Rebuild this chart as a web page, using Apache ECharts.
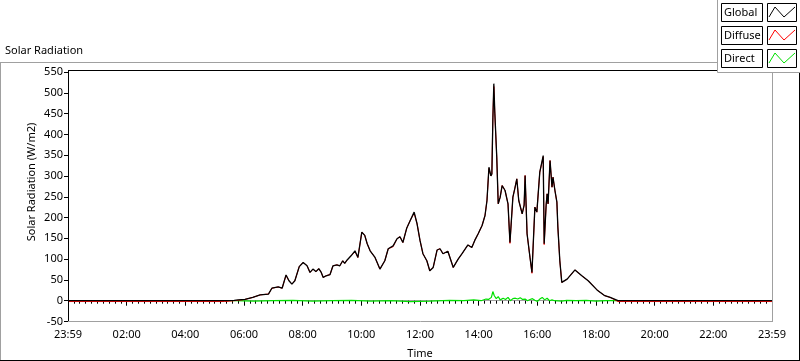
<!DOCTYPE html>
<html>
<head>
<meta charset="utf-8">
<script src="https://cdn.jsdelivr.net/npm/echarts@6/dist/echarts.min.js"></script>
<style>
  html, body { margin: 0; padding: 0; background: #fff; }
  #chart { width: 800px; height: 361px; }
</style>
</head>
<body>
<div id="chart"></div>
<script>
// minutes since the first 23:59 tick
const times = [
  0, 320, 340, 348, 362, 378, 393, 410, 417, 430,
  438, 446, 452, 458, 464, 473, 481, 489, 495, 501,
  507, 513, 518, 522, 528, 536, 542, 550, 556, 562,
  566, 571, 579, 587, 593, 601, 607, 612, 618, 628,
  638, 642, 648, 655, 665, 673, 679, 685, 693, 700,
  708, 714, 720, 726, 734, 740, 747, 755, 761, 767,
  777, 788, 798, 806, 818, 826, 832, 839, 847, 853,
  857, 861, 865, 867, 869, 871, 873, 877, 880, 884,
  888, 894, 898, 900, 904, 910, 914, 918, 922, 929,
  933, 935, 939, 945, 949, 955, 959, 965, 972, 974,
  978, 980, 982, 986, 990, 992, 996, 1000, 1002, 1006,
  1010, 1021, 1037, 1051, 1064, 1082, 1098, 1109, 1125, 1440
]
const globalValues = [
  0, 0, 1, 2, 3, 8, 14, 16, 30, 33,
  30, 62, 48, 40, 48, 82, 92, 84, 68, 76,
  70, 77, 68, 56, 60, 63, 84, 86, 84, 96,
  90, 98, 108, 120, 104, 165, 157, 137, 120, 104,
  76, 72, 96, 125, 132, 149, 154, 140, 175, 193,
  213, 185, 145, 113, 96, 72, 80, 122, 125, 113,
  119, 80, 100, 113, 134, 128, 145, 161, 181, 205,
  241, 321, 300, 305, 434, 522, 454, 345, 233, 249,
  277, 265, 269, 233, 140, 249, 270, 293, 241, 209,
  230, 301, 161, 104, 68, 225, 213, 309, 349, 137,
  230, 257, 233, 337, 273, 297, 265, 237, 177, 96,
  44, 52, 74, 60, 48, 26, 12, 8, 0, 0
]
const diffuseValues = [
  -2, -2, 0, 1, 3, 8, 14, 16, 30, 33,
  30, 61, 48, 40, 48, 82, 92, 84, 68, 76,
  70, 77, 68, 56, 60, 63, 84, 86, 84, 96,
  90, 98, 108, 118, 104, 165, 157, 137, 120, 104,
  76, 72, 96, 125, 130, 149, 154, 140, 175, 193,
  211, 185, 145, 113, 96, 72, 80, 122, 125, 113,
  119, 80, 100, 113, 134, 128, 145, 161, 181, 205,
  241, 318, 300, 305, 440, 515, 450, 345, 233, 249,
  277, 265, 269, 233, 138, 249, 270, 293, 241, 209,
  230, 301, 161, 104, 66, 225, 213, 309, 346, 135,
  230, 257, 233, 337, 273, 297, 265, 237, 177, 96,
  44, 52, 74, 60, 48, 26, 12, 8, -2, -2
]
const directTimes = [
  0, 340, 380, 420, 460, 500, 540, 580, 620, 660,
  700, 740, 780, 810, 830, 845, 855, 860, 866, 869,
  872, 876, 880, 884, 890, 895, 900, 905, 910, 915,
  920, 925, 930, 935, 940, 945, 950, 955, 960, 965,
  970, 975, 980, 985, 990, 995, 1010, 1020, 1040, 1060,
  1080, 1100, 1125, 1440
]
const directValues = [
  0, 0, -1, 0, 1, -1, 0, 1, -1, 0,
  -2, -1, 1, 0, 2, 0, 4, 3, 8, 22,
  12, 5, 10, 2, 6, 3, 8, 0, 5, 6,
  4, 7, 3, 4, 0, 3, 5, 1, -2, 4,
  8, 2, 6, 0, 2, 0, -1, 1, 0, 1,
  -1, 0, 0, 0
]
const legendNames = ['Global', 'Diffuse', 'Direct']
const legendColors = ['#000000', '#ff0000', '#00e000']

const FONT = 'Noto Sans'
const zip = (xs, ys) => xs.map((x, i) => [x, ys[i]])
const timeLabel = v => (v === 0 || v === 1440) ? '23:59' : String(v / 60).padStart(2, '0') + ':00'

const line = (x1, y1, x2, y2, color) => ({
  type: 'line', shape: { x1, y1, x2, y2 }, style: { stroke: color, lineWidth: 1 }, z: 100
})

const legendItems = []
legendNames.forEach((name, i) => {
  const top = 3 + i * 23
  legendItems.push({
    type: 'rect', shape: { x: 721.5, y: top + 0.5, width: 41, height: 18 },
    style: { fill: '#fff', stroke: '#000', lineWidth: 1 }, z: 101
  })
  legendItems.push({
    type: 'text', x: 724, y: top + 10,
    style: { text: name, font: '11px ' + FONT, fill: '#000', textVerticalAlign: 'middle' }, z: 102
  })
  legendItems.push({
    type: 'rect', shape: { x: 767.5, y: top + 0.5, width: 29, height: 18 },
    style: { fill: '#fff', stroke: '#000', lineWidth: 1 }, z: 101
  })
  legendItems.push({
    type: 'polyline',
    shape: { points: [[769, top + 14], [775, top + 4], [784, top + 14], [795, top + 4]] },
    style: { stroke: legendColors[i], lineWidth: 1, fill: null }, z: 102
  })
})

const chart = echarts.init(document.getElementById('chart'), null, { renderer: 'canvas' })
chart.setOption({
  animation: false,
  backgroundColor: '#fff',
  textStyle: { fontFamily: FONT },
  grid: {
    left: 68, right: 28, top: 72, bottom: 39.5,
    outerBoundsMode: 'none', containLabel: false, show: false
  },
  xAxis: {
    type: 'value', min: 0, max: 1440, interval: 120, position: 'bottom',
    name: 'Time', nameLocation: 'middle', nameGap: 27,
    nameTextStyle: { fontSize: 11, color: '#000', fontFamily: FONT },
    axisLine: { show: true, lineStyle: { color: '#a0a0a0' } },
    axisTick: { show: true, length: 5, lineStyle: { color: '#000' } },
    minorTick: { show: true, splitNumber: 10, length: 3, lineStyle: { color: '#000' } },
    splitLine: { show: false },
    axisLabel: { formatter: timeLabel, fontSize: 11, color: '#000', margin: 8, fontFamily: FONT }
  },
  yAxis: {
    type: 'value', min: -50, max: 550, interval: 50,
    axisLine: { show: true, lineStyle: { color: '#000' } },
    axisTick: { show: true, length: 4, lineStyle: { color: '#000' } },
    splitLine: { show: false },
    axisLabel: { fontSize: 11, color: '#000', margin: 5, fontFamily: FONT }
  },
  series: [
    {
      name: 'Direct', type: 'line', data: zip(directTimes, directValues),
      showSymbol: false, lineStyle: { color: legendColors[2], width: 1.2 }
    },
    {
      name: 'Diffuse', type: 'line', data: zip(times, diffuseValues),
      showSymbol: false, lineStyle: { color: legendColors[1], width: 1 }
    },
    {
      name: 'Global', type: 'line', data: zip(times, globalValues),
      showSymbol: false, lineStyle: { color: legendColors[0], width: 1.3 }
    }
  ],
  graphic: [
    {
      type: 'text', x: 5, y: 51,
      style: { text: 'Solar Radiation', font: '11px ' + FONT, fill: '#000', textVerticalAlign: 'middle' }
    },
    {
      type: 'text', x: 32, y: 182, rotation: Math.PI / 2,
      style: {
        text: 'Solar Radiation (W/m2)', font: '11px ' + FONT, fill: '#000',
        textAlign: 'center', textVerticalAlign: 'middle'
      }
    },
    // plot frame: dark top/left, light right/bottom
    line(68, 70.5, 772, 70.5, '#000'),
    line(68.5, 70, 68.5, 322, '#000'),
    line(772.5, 70, 772.5, 322, '#a0a0a0'),
    line(68, 321.5, 773, 321.5, '#a0a0a0'),
    // outer panel frame
    line(0, 62.5, 718, 62.5, '#a0a0a0'),
    line(0.5, 62, 0.5, 360, '#a0a0a0'),
    line(0, 360.5, 800, 360.5, '#000'),
    line(799.5, 72, 799.5, 361, '#000'),
    {
      type: 'rect', shape: { x: 717.5, y: -1, width: 90, height: 73.5 },
      style: { fill: '#fff', stroke: '#a0a0a0', lineWidth: 1 }, z: 100
    },
    ...legendItems
  ]
})
</script>
</body>
</html>
